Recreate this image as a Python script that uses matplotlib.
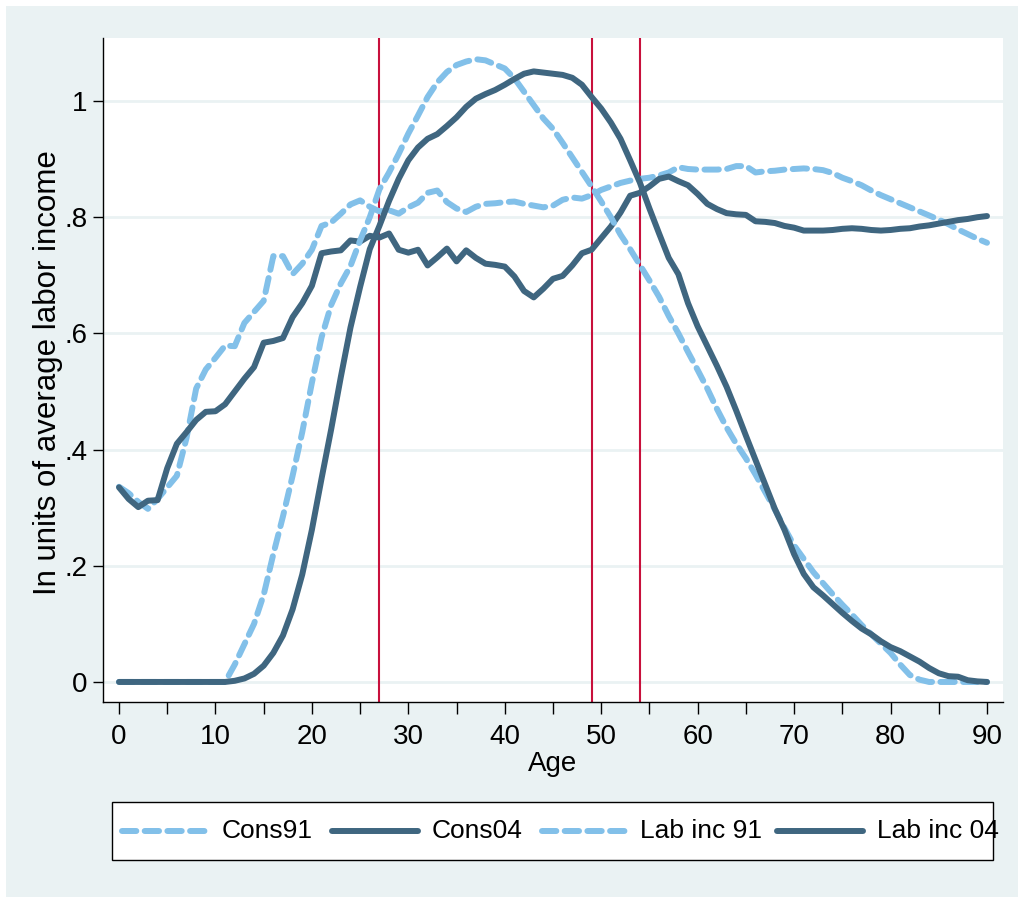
import matplotlib
matplotlib.use("Agg")
import matplotlib.pyplot as plt
from matplotlib.patches import Rectangle
from matplotlib.lines import Line2D
import numpy as np

plt.rcParams['font.family'] = ['Liberation Sans', 'DejaVu Sans']

age = list(range(0, 91))

cons91 = [0.336, 0.325, 0.31, 0.298, 0.315, 0.335, 0.355, 0.42, 0.505, 0.538,
          0.558, 0.579, 0.578, 0.618, 0.637, 0.656, 0.733, 0.733, 0.702, 0.72,
          0.744, 0.785, 0.791, 0.806, 0.822, 0.829, 0.818, 0.81, 0.812, 0.806,
          0.817, 0.825, 0.842, 0.846, 0.826, 0.815, 0.809, 0.818, 0.823, 0.824,
          0.826, 0.827, 0.823, 0.82, 0.817, 0.82, 0.83, 0.834, 0.832, 0.838,
          0.847, 0.853, 0.859, 0.863, 0.866, 0.868, 0.872, 0.877, 0.886, 0.883,
          0.882, 0.882, 0.882, 0.883, 0.888, 0.888, 0.877, 0.879, 0.88, 0.882,
          0.883, 0.884, 0.883, 0.881, 0.876, 0.868, 0.862, 0.855, 0.846, 0.838,
          0.831, 0.824, 0.817, 0.81, 0.803, 0.796, 0.788, 0.779, 0.771, 0.763,
          0.756]

cons04 = [0.335, 0.315, 0.301, 0.312, 0.313, 0.368, 0.41, 0.43, 0.451, 0.465,
          0.466, 0.478, 0.50, 0.522, 0.542, 0.584, 0.587, 0.592, 0.628, 0.652,
          0.682, 0.738, 0.741, 0.743, 0.76, 0.758, 0.768, 0.765, 0.772, 0.744,
          0.739, 0.744, 0.717, 0.731, 0.746, 0.724, 0.743, 0.73, 0.72, 0.718,
          0.715, 0.698, 0.673, 0.662, 0.677, 0.694, 0.699, 0.717, 0.738, 0.744,
          0.764, 0.784, 0.808, 0.837, 0.842, 0.853, 0.866, 0.87, 0.862, 0.855,
          0.84, 0.823, 0.814, 0.807, 0.805, 0.804, 0.793, 0.792, 0.79, 0.785,
          0.782, 0.777, 0.777, 0.777, 0.778, 0.78, 0.781, 0.78, 0.778, 0.777,
          0.778, 0.78, 0.781, 0.784, 0.786, 0.789, 0.792, 0.795, 0.797, 0.8,
          0.802]

labinc91 = [0, 0, 0, 0, 0, 0, 0, 0, 0, 0,
            0, 0, 0.03, 0.065, 0.1, 0.15, 0.22, 0.285, 0.355, 0.43,
            0.515, 0.593, 0.649, 0.686, 0.716, 0.76, 0.8, 0.848, 0.877, 0.909,
            0.944, 0.975, 1.007, 1.032, 1.05, 1.062, 1.068, 1.072, 1.07, 1.063,
            1.056, 1.039, 1.016, 0.993, 0.97, 0.952, 0.928, 0.903, 0.878, 0.853,
            0.827, 0.8, 0.77, 0.745, 0.718, 0.691, 0.663, 0.63, 0.6, 0.568,
            0.537, 0.505, 0.47, 0.438, 0.41, 0.385, 0.357, 0.327, 0.297, 0.265,
            0.235, 0.212, 0.189, 0.17, 0.151, 0.133, 0.116, 0.098, 0.082, 0.066,
            0.05, 0.03, 0.012, 0.004, 0.0, 0.0, 0.0, 0.0, 0.0, 0.0,
            0.0]

labinc04 = [0, 0, 0, 0, 0, 0, 0, 0, 0, 0,
            0, 0, 0.002, 0.006, 0.014, 0.028, 0.05, 0.08, 0.125, 0.185,
            0.262, 0.35, 0.435, 0.525, 0.61, 0.68, 0.745, 0.785, 0.828, 0.866,
            0.898, 0.92, 0.935, 0.943, 0.957, 0.972, 0.99, 1.004, 1.012, 1.019,
            1.028, 1.038, 1.047, 1.051, 1.049, 1.047, 1.045, 1.04, 1.028, 1.007,
            0.987, 0.963, 0.935, 0.898, 0.86, 0.815, 0.772, 0.73, 0.702, 0.652,
            0.612, 0.578, 0.544, 0.508, 0.467, 0.424, 0.382, 0.34, 0.298, 0.262,
            0.22, 0.186, 0.163, 0.149, 0.134, 0.119, 0.105, 0.092, 0.082, 0.07,
            0.06, 0.053, 0.044, 0.035, 0.024, 0.015, 0.01, 0.009, 0.003, 0.001,
            0.0]

xlines = [27, 49, 54]
yticks = [0, 0.2, 0.4, 0.6, 0.8, 1.0]
yticklabels = ["0", ".2", ".4", ".6", ".8", "1"]
xticks_major = list(range(0, 91, 10))
xticks_minor = list(range(5, 91, 10))
labels = ["Cons91", "Cons04", "Lab inc 91", "Lab inc 04"]

BG = "#EAF2F3"
LIGHT = "#82C0E9"
DARK = "#3F6680"
RED = "#C8103C"

W, H = 1018, 897
fig = plt.figure(figsize=(W / 100, H / 100), dpi=100)
fig.patch.set_facecolor("white")
fig.patches.append(Rectangle((6 / W, 0), 1 - 6 / W, 1 - 6 / H, transform=fig.transFigure,
                             facecolor=BG, edgecolor="none", zorder=-10))

ax = fig.add_axes([103 / W, (H - 702) / H, 900 / W, 664 / H])
ax.set_facecolor("white")
ax.set_xlim(-1.66, 91.66)
ax.set_ylim(-0.0345, 1.1085)

for s in ["top", "right"]:
    ax.spines[s].set_visible(False)
for s in ["left", "bottom"]:
    ax.spines[s].set_linewidth(1.0)
    ax.spines[s].set_color("black")

ax.set_yticks(yticks)
ax.set_yticklabels(yticklabels)
ax.set_xticks(xticks_major)
ax.set_xticks(xticks_minor, minor=True)
ax.tick_params(axis="x", which="both", length=8.5, width=1.0, labelsize=20, pad=7)
ax.tick_params(axis="y", length=7, width=1.0, labelsize=20, pad=4)
ax.yaxis.grid(True, color=BG, linewidth=2.0)
ax.set_axisbelow(True)

for xl in xlines:
    ax.axvline(xl, color=RED, linewidth=1.5, zorder=1.5)

dash = (0, (2.4, 1.4))
lw = 4.3
styles = [dict(color=LIGHT, lw=lw, linestyle=dash, dash_capstyle="round", solid_capstyle="round"),
          dict(color=DARK, lw=lw, solid_capstyle="round"),
          dict(color=LIGHT, lw=lw, linestyle=dash, dash_capstyle="round", solid_capstyle="round"),
          dict(color=DARK, lw=lw, solid_capstyle="round")]
series = [cons91, cons04, labinc91, labinc04]
for i, (ys, st) in enumerate(zip(series, styles)):
    ax.plot(age, ys, zorder=2 + 0.1 * i, **st)

ax.set_xlabel("Age", fontsize=20, labelpad=1)
ax.set_ylabel("In units of average labor income", fontsize=22.5, va="center")
ax.yaxis.set_label_coords((48 - 103) / 900, (702 - 373) / 664)

# legend box (manual layout to match reference)
fig.add_artist(Rectangle((112 / W, 1 - 860 / H), 881 / W, 58 / H, transform=fig.transFigure,
                         facecolor="white", edgecolor="black", linewidth=1.0, zorder=5))
handle_x = [(122, 207), (332, 418), (542, 625), (777, 863)]
text_x = [222, 432, 640, 877]
ly = 1 - 831 / H
for (x0, x1), tx, lab, st in zip(handle_x, text_x, labels, styles):
    fig.add_artist(Line2D([x0 / W, x1 / W], [ly, ly], transform=fig.transFigure, zorder=6, **st))
    fig.text(tx / W, ly, lab, fontsize=19, ha="left", va="center", zorder=6)

fig.savefig("out.png", dpi=100, facecolor=fig.get_facecolor())
